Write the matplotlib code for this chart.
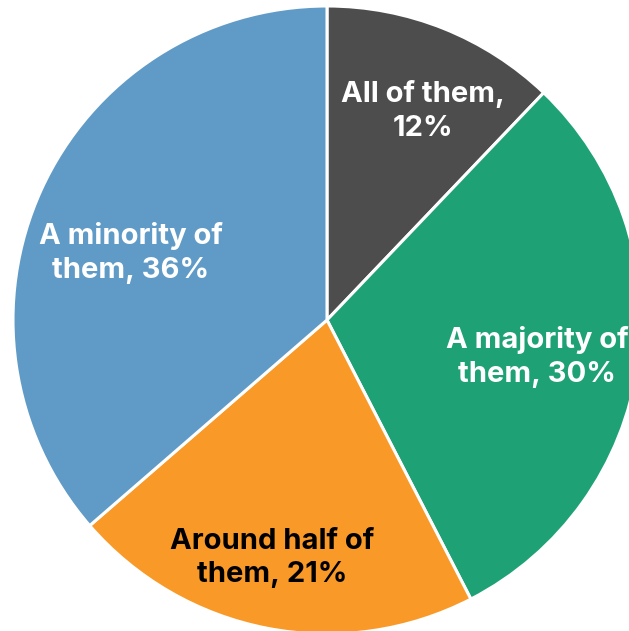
import matplotlib
matplotlib.use("Agg")
import matplotlib.pyplot as plt

categories = ["All of them", "A majority of them", "Around half of them", "A minority of them"]
values = [12, 30, 21, 36]
labels = ["All of them,\n12%", "A majority of\nthem, 30%", "Around half of\nthem, 21%", "A minority of\nthem, 36%"]
colors = ["#4d4d4d", "#1ea275", "#f99a28", "#5f9bc6"]
text_colors = ["white", "white", "black", "white"]

W, H = 629, 631
cx, cy, R = 327, 320, 314  # pixel center (from top), radius

fig = plt.figure(figsize=(W / 100, H / 100), dpi=100)
ax = fig.add_axes([0, 0, 1, 1])

ax.pie(values, colors=colors, startangle=90, counterclock=False, radius=1.0,
       wedgeprops=dict(edgecolor="white", linewidth=2.2))
ax.set_aspect("auto")
ax.set_xlim(-cx / R, (W - cx) / R)
ax.set_ylim(-(H - cy) / R, cy / R)
ax.axis("off")

# label positions (pixels from top-left)
label_px = [(423, 111), (537, 357), (272, 558), (131, 253)]
for lab, (px, py), tc in zip(labels, label_px, text_colors):
    ax.text((px - cx) / R, (cy - py) / R, lab, ha="center", va="center",
            color=tc, fontsize=21, fontweight="bold", family=["Inter", "DejaVu Sans"],
            linespacing=1.3)

fig.savefig("out.png", dpi=100)
